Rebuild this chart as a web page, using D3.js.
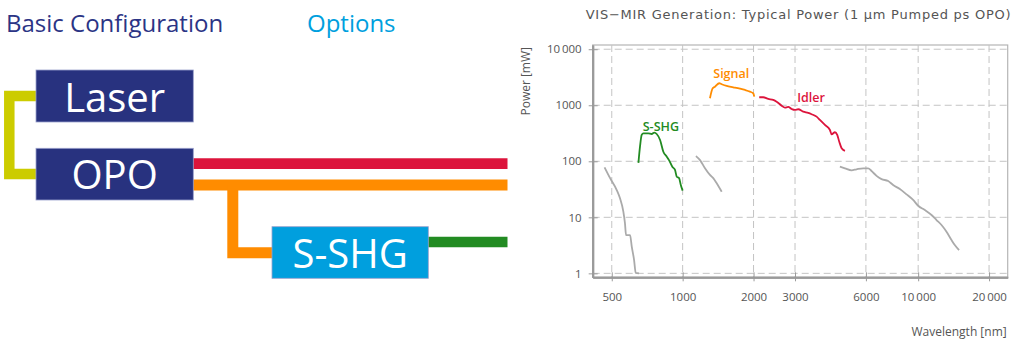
<!DOCTYPE html>
<html>
<head>
<meta charset="utf-8">
<script src="https://cdn.jsdelivr.net/npm/d3@7"></script>
<style>
  html, body { margin: 0; padding: 0; background: #fff; }
  svg { display: block; }
  .diagram text { font-family: "Open Sans", sans-serif; }
  .chart text { font-family: "Open Sans", sans-serif; fill: #555; }
  .chart .title { font-family: "DejaVu Sans", sans-serif; letter-spacing: 0.75px; }
</style>
</head>
<body>
<svg id="fig" width="1024" height="349"></svg>
<script>
// ---- Measured output curves (wavelength in nm, power in mW) ----
const visWavelength = [466, 492, 525, 542, 560, 569, 575, 598, 608, 622, 632, 653];
const visPower      = [78, 50, 30.7, 21.8, 12.6, 7.8, 4.8, 4.8, 3.0, 1.73, 1.02, 1.0];

const sshgWavelength = [649, 659, 670, 681, 715, 739, 758, 776, 802, 828, 856, 875, 904, 928, 944, 966, 982, 1000];
const sshgPower      = [94, 182, 295, 316, 316, 307, 324, 307, 240, 148, 121, 105, 80, 70, 53, 50, 37.7, 29.9];

const nirWavelength = [1139, 1185, 1244, 1306, 1349, 1395, 1465];
const nirPower      = [124, 105, 75, 57, 50, 40.5, 28.6];

const signalWavelength = [1306, 1341, 1372, 1430, 1465, 1538, 1641, 1751, 1840, 1931, 1994, 2014];
const signalPower      = [1334, 2013, 2149, 2471, 2371, 2212, 2095, 1978, 1875, 1750, 1638, 1425];

const idlerWavelength = [2114, 2198, 2309, 2425, 2506, 2631, 2717, 2806, 2902, 2997, 3095, 3251, 3414, 3528, 3705, 3827, 4019, 4221, 4292, 4433, 4533, 4624, 4732, 4888];
const idlerPower      = [1389, 1389, 1296, 1245, 1159, 984, 906, 933, 859, 824, 849, 769, 729, 691, 626, 547, 445, 362, 303, 330, 295, 224, 171, 153];

const mirWavelength = [4652, 4888, 5216, 5476, 5842, 6133, 6339, 6658, 6991, 7458, 7830, 8361, 8924, 9520, 9996, 10674, 11396, 11966, 12564, 13193, 13853, 14306, 14920];
const mirPower      = [80, 75, 69, 72, 75, 75, 67, 55, 48, 44.5, 37.7, 32, 25.7, 20.4, 16.1, 13.5, 11, 8.95, 7.3, 5.53, 3.93, 3.2, 2.6];

// ---- Axis ticks ----
const xTicks = [500, 1000, 2000, 3000, 6000, 10000, 20000];
const xTickLabels = ["500", "1000", "2000", "3000", "6000", "10\u2009000", "20\u2009000"];
const yTicks = [1, 10, 100, 1000, 10000];
const yTickLabels = ["1", "10", "100", "1000", "10\u2009000"];

// ---- Series labels (anchored in data space) ----
const seriesLabels = ["S-SHG", "Signal", "Idler"];
const labelWavelength = [677, 1349, 3065];
const labelPower = [352, 3111, 1132];

const colors = {
  navy: "#28327f", cyan: "#009fde", yellow: "#cccc00",
  red: "#dc143c", orange: "#ff8c00", green: "#228b22", gray: "#aaaaaa"
};

const svg = d3.select("#fig");

// ================= Configuration diagram =================
const dg = svg.append("g").attr("class", "diagram");

dg.append("text").attr("x", 6).attr("y", 32.3)
  .attr("font-size", 24).attr("fill", "#2b3485").text("Basic Configuration");
dg.append("text").attr("x", 307).attr("y", 32.3)
  .attr("font-size", 24).attr("fill", colors.cyan).text("Options");

const beams = dg.append("g").attr("fill", "none").attr("stroke-linejoin", "miter").attr("stroke-linecap", "butt");
// pump laser into the OPO
beams.append("path").attr("d", "M36,96 H9.3 V174 H36")
  .attr("stroke", colors.yellow).attr("stroke-width", 10.5);
// idler output
beams.append("path").attr("d", "M193,163.7 H507.5")
  .attr("stroke", colors.red).attr("stroke-width", 10.7);
// signal output and branch into the SHG stage
beams.append("path").attr("d", "M193,185 H507.5")
  .attr("stroke", colors.orange).attr("stroke-width", 11);
beams.append("path").attr("d", "M232.8,185 V252.7 H272")
  .attr("stroke", colors.orange).attr("stroke-width", 11);
// SHG output
beams.append("path").attr("d", "M428,242 H507.5")
  .attr("stroke", colors.green).attr("stroke-width", 10.7);

const boxes = [
  { label: "Laser", x: 36, y: 70, w: 157.3, h: 52, fill: colors.navy, base: 111.7 },
  { label: "OPO", x: 36, y: 148.3, w: 157.3, h: 51.7, fill: colors.navy, base: 189.3 },
  { label: "S-SHG", x: 272, y: 226.7, w: 156.3, h: 51.6, fill: colors.cyan, base: 267.6 }
];
const bg = dg.selectAll("g.box").data(boxes).enter().append("g").attr("class", "box");
bg.append("rect")
  .attr("x", d => d.x).attr("y", d => d.y).attr("width", d => d.w).attr("height", d => d.h)
  .attr("fill", d => d.fill).attr("stroke", "#9aa0cc").attr("stroke-width", 0.8);
bg.append("text")
  .attr("x", d => d.x + d.w / 2).attr("y", d => d.base)
  .attr("text-anchor", "middle").attr("font-size", 40).attr("fill", "#fff")
  .text(d => d.label);

// ================= Power chart =================
const plot = { left: 592.7, right: 1007.7, top: 45, bottom: 277.3 };
const x = d3.scaleLog().domain([415, 24000]).range([plot.left, plot.right]);
const y = d3.scaleLog().domain([0.85, 11900]).range([plot.bottom, plot.top]);

const ch = svg.append("g").attr("class", "chart");

ch.append("text").attr("class", "title")
  .attr("x", 798.5).attr("y", 19).attr("text-anchor", "middle")
  .attr("font-size", 13).attr("fill", "#555")
  .text("VIS\u2212MIR Generation: Typical Power (1 \u00b5m Pumped ps OPO)");

// frame
ch.append("rect")
  .attr("x", plot.left).attr("y", plot.top)
  .attr("width", plot.right - plot.left).attr("height", plot.bottom - plot.top)
  .attr("fill", "none").attr("stroke", "#b5b5b5").attr("stroke-width", 1.2);

// dashed grid
const grid = ch.append("g").attr("stroke", "#c4c4c4").attr("stroke-width", 1).attr("stroke-dasharray", "7,4");
grid.selectAll("line.gx").data(xTicks).enter().append("line")
  .attr("x1", d => x(d)).attr("x2", d => x(d))
  .attr("y1", plot.top).attr("y2", plot.bottom);
grid.selectAll("line.gy").data(yTicks).enter().append("line")
  .attr("x1", plot.left).attr("x2", plot.right)
  .attr("y1", d => y(d)).attr("y2", d => y(d));

// axes: outward ticks with labels, plus short inward ticks
const xAxis = d3.axisBottom(x).tickValues(xTicks)
  .tickFormat((d, i) => xTickLabels[i]).tickSizeInner(4).tickSizeOuter(0).tickPadding(12);
const xAxisIn = d3.axisBottom(x).tickValues(xTicks).tickFormat("").tickSizeInner(-5).tickSizeOuter(0);
const yAxis = d3.axisLeft(y).tickValues(yTicks)
  .tickFormat((d, i) => yTickLabels[i]).tickSizeInner(4).tickSizeOuter(0).tickPadding(7);
const yAxisIn = d3.axisLeft(y).tickValues(yTicks).tickFormat("").tickSizeInner(-5).tickSizeOuter(0);

function styleAxis(g) {
  g.select(".domain").attr("stroke", "#9a9a9a").attr("stroke-width", 2);
  g.selectAll(".tick line").attr("stroke", "#9a9a9a").attr("stroke-width", 1);
  g.selectAll(".tick text").attr("font-size", 11.5).attr("fill", "#555")
    .attr("font-family", "'Open Sans', sans-serif");
}
ch.append("g").attr("transform", `translate(0,${plot.bottom})`).call(xAxis).call(styleAxis);
ch.append("g").attr("transform", `translate(0,${plot.bottom})`).call(xAxisIn).call(styleAxis);
ch.append("g").attr("transform", `translate(${plot.left},0)`).call(yAxis).call(styleAxis);
ch.append("g").attr("transform", `translate(${plot.left},0)`).call(yAxisIn).call(styleAxis);

ch.append("text").attr("x", 1006.7).attr("y", 335.7).attr("text-anchor", "end")
  .attr("font-size", 12).text("Wavelength [nm]");
ch.append("text").attr("transform", "translate(530,47) rotate(-90)").attr("text-anchor", "end")
  .attr("font-size", 12).text("Power [mW]");

// curves
const series = [
  { w: visWavelength, p: visPower, color: colors.gray },
  { w: nirWavelength, p: nirPower, color: colors.gray },
  { w: mirWavelength, p: mirPower, color: colors.gray },
  { w: sshgWavelength, p: sshgPower, color: colors.green },
  { w: signalWavelength, p: signalPower, color: colors.orange },
  { w: idlerWavelength, p: idlerPower, color: colors.red }
];
const line = d3.line().x(d => x(d[0])).y(d => y(d[1])).curve(d3.curveMonotoneX);
ch.append("g").selectAll("path").data(series).enter().append("path")
  .attr("d", s => line(s.w.map((w, i) => [w, s.p[i]])))
  .attr("fill", "none").attr("stroke", s => s.color).attr("stroke-width", 1.8)
  .attr("stroke-linejoin", "round");

const labelColors = [colors.green, colors.orange, colors.red];
ch.append("g").selectAll("text").data(seriesLabels).enter().append("text")
  .attr("x", (d, i) => x(labelWavelength[i]))
  .attr("y", (d, i) => y(labelPower[i]))
  .attr("font-size", 12.5).attr("font-weight", 600)
  .style("fill", (d, i) => labelColors[i])
  .text(d => d);
</script>
</body>
</html>
